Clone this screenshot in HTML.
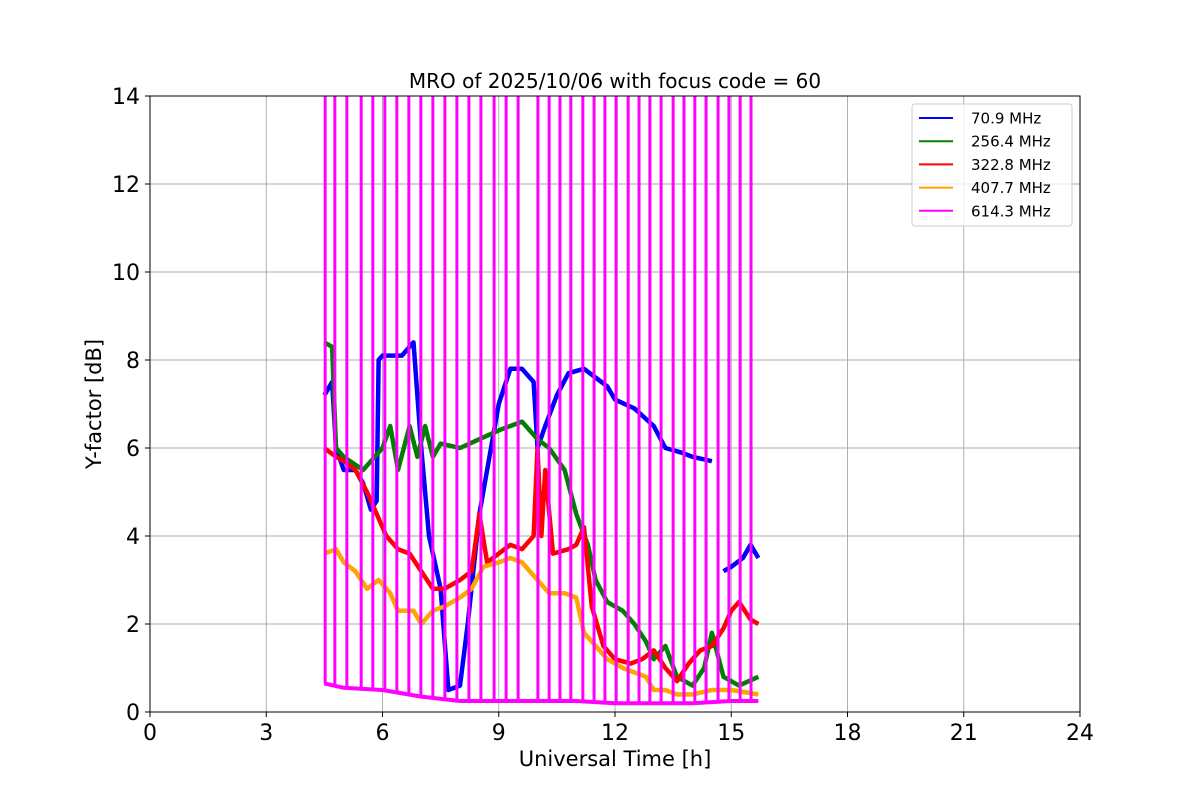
<!DOCTYPE html>
<html><head><meta charset="utf-8">
<style>
html,body{margin:0;padding:0;background:#fff;}
svg{display:block;font-family:"DejaVu Sans","Liberation Sans",sans-serif;}
</style></head>
<body>
<svg id="chart" width="1200" height="800" xmlns="http://www.w3.org/2000/svg">
<defs><clipPath id="clip"><rect x="150" y="96" width="930" height="616"/></clipPath></defs>
<rect x="0" y="0" width="1200" height="800" fill="#fff"/>
<text x="615" y="88" font-size="20" text-anchor="middle">MRO of 2025/10/06 with focus code = 60</text>
<g id="grid"></g>
<g id="series" clip-path="url(#clip)"></g>
<rect x="150" y="96" width="930" height="616" fill="none" stroke="#000" stroke-width="1"/>
<g id="axes"></g>
<text x="615" y="766" font-size="21" text-anchor="middle">Universal Time [h]</text>
<text transform="translate(101,404) rotate(-90)" font-size="21" text-anchor="middle">Y-factor [dB]</text>
<g id="legend"></g>
</svg>
<script>
const xTicks=[0,3,6,9,12,15,18,21,24];
const yTicks=[0,2,4,6,8,10,12,14];
const seriesNames=[" 70.9 MHz","256.4 MHz","322.8 MHz","407.7 MHz","614.3 MHz"];
const seriesColors=["#0000ff","#008000","#ff0000","#ffa500","#ff00ff"];
const blueT=[4.5,4.7,4.8,5.0,5.3,5.5,5.7,5.85,5.9,6.0,6.5,6.8,7.0,7.2,7.5,7.7,8.0,8.2,8.5,8.8,9.0,9.3,9.6,9.9,10.0,10.2,10.5,10.8,11.2,11.5,11.8,12.0,12.5,13.0,13.3,13.7,14.0,14.5];
const blueV=[7.2,7.5,6.0,5.5,5.5,5.2,4.6,4.8,8.0,8.1,8.1,8.4,6.0,4.0,2.8,0.5,0.6,2.0,4.5,6.0,7.0,7.8,7.8,7.5,6.0,6.5,7.2,7.7,7.8,7.6,7.4,7.1,6.9,6.5,6.0,5.9,5.8,5.7];
const blue2T=[14.8,15.0,15.3,15.5,15.7];
const blue2V=[3.2,3.3,3.5,3.8,3.5];
const greenT=[4.5,4.7,4.8,5.0,5.5,5.8,6.0,6.2,6.4,6.7,6.9,7.1,7.3,7.5,8.0,8.5,9.0,9.3,9.6,10.0,10.3,10.7,11.0,11.3,11.5,11.8,12.2,12.5,12.8,13.0,13.3,13.6,14.0,14.3,14.5,14.8,15.2,15.7];
const greenV=[8.4,8.3,6.0,5.8,5.5,5.8,6.0,6.5,5.5,6.5,5.8,6.5,5.8,6.1,6.0,6.2,6.4,6.5,6.6,6.2,6.0,5.5,4.5,3.8,3.0,2.5,2.3,2.0,1.6,1.2,1.5,0.8,0.6,1.0,1.8,0.8,0.6,0.8];
const redT=[4.5,4.8,5.0,5.3,5.6,5.9,6.1,6.4,6.7,7.0,7.3,7.6,8.0,8.3,8.5,8.7,9.0,9.3,9.6,9.9,10.0,10.1,10.2,10.4,10.8,11.0,11.2,11.4,11.7,12.0,12.4,12.7,13.0,13.3,13.6,13.9,14.2,14.5,14.8,15.0,15.2,15.5,15.7];
const redV=[6.0,5.8,5.7,5.5,5.0,4.4,4.0,3.7,3.6,3.2,2.8,2.8,3.0,3.2,4.5,3.4,3.6,3.8,3.7,4.0,6.0,4.0,5.5,3.6,3.7,3.8,4.2,2.4,1.5,1.2,1.1,1.2,1.4,1.0,0.7,1.1,1.4,1.5,1.9,2.3,2.5,2.1,2.0];
const orangeT=[4.5,4.8,5.0,5.3,5.6,5.9,6.2,6.4,6.8,7.0,7.3,7.6,8.0,8.3,8.6,9.0,9.3,9.6,10.0,10.3,10.7,11.0,11.2,11.5,11.8,12.2,12.5,12.8,13.0,13.3,13.6,14.0,14.5,15.0,15.7];
const orangeV=[3.6,3.7,3.4,3.2,2.8,3.0,2.7,2.3,2.3,2.0,2.3,2.4,2.6,2.8,3.3,3.4,3.5,3.4,3.0,2.7,2.7,2.6,1.8,1.5,1.2,1.0,0.9,0.8,0.5,0.5,0.4,0.4,0.5,0.5,0.4];
const magentaT=[4.5,5.0,6.0,7.0,8.0,9.0,10.0,11.0,12.0,13.0,14.0,15.0,15.7];
const magentaV=[0.65,0.55,0.5,0.35,0.25,0.25,0.25,0.25,0.2,0.2,0.2,0.25,0.25];
const spikeT=[4.52,4.77,5.08,5.45,5.75,6.06,6.37,6.68,6.99,7.30,7.61,7.92,8.23,8.54,8.88,9.19,9.50,10.01,10.30,10.58,10.86,11.17,11.46,11.74,12.03,12.34,12.62,12.90,13.19,13.50,13.78,14.06,14.35,14.66,14.94,15.23,15.51];

const NS="http://www.w3.org/2000/svg";
const X=h=>150+h*930/24;
const Y=v=>712-v*616/14;
function mk(tag,attrs,parent){const e=document.createElementNS(NS,tag);for(const k in attrs)e.setAttribute(k,attrs[k]);parent.appendChild(e);return e;}
const grid=document.getElementById('grid'),axes=document.getElementById('axes'),ser=document.getElementById('series'),leg=document.getElementById('legend');
xTicks.forEach(t=>{
 const g=mk('line',{x1:X(t),x2:X(t),y1:96,y2:712,stroke:'#a8a8a8','stroke-width':0.9},grid);
 
 
 mk('line',{x1:X(t),x2:X(t),y1:712,y2:717,stroke:'#000'},axes);
 const l=mk('text',{x:X(t),y:740,'font-size':22,'text-anchor':'middle'},axes);l.textContent=t;
 
 
});
yTicks.forEach(t=>{
 const g=mk('line',{x1:150,x2:1080,y1:Y(t),y2:Y(t),stroke:'#a8a8a8','stroke-width':0.9},grid);
 
 
 mk('line',{x1:145,x2:150,y1:Y(t),y2:Y(t),stroke:'#000'},axes);
 const l=mk('text',{x:140,y:Y(t)+8,'font-size':22,'text-anchor':'end'},axes);l.textContent=t;
 
 
});
function line(T,V,color,w,name){
 const p=mk('polyline',{points:T.map((t,i)=>X(t)+','+Y(V[i])).join(' '),fill:'none',stroke:color,'stroke-width':w,'stroke-linejoin':'round'},ser);
 
 
}
line(blueT,blueV,seriesColors[0],4.5,'series-70-9-mhz');
line(blue2T,blue2V,seriesColors[0],4.5,'series-70-9-mhz-late');
line(greenT,greenV,seriesColors[1],4.5,'series-256-4-mhz');
line(redT,redV,seriesColors[2],4.5,'series-322-8-mhz');
line(orangeT,orangeV,seriesColors[3],4.5,'series-407-7-mhz');
line(magentaT,magentaV,seriesColors[4],4,'series-614-3-mhz');
function interp(t){for(let i=1;i<magentaT.length;i++){if(t<=magentaT[i]){const f=(t-magentaT[i-1])/(magentaT[i]-magentaT[i-1]);return magentaV[i-1]+f*(magentaV[i]-magentaV[i-1]);}}return magentaV[magentaV.length-1];}
spikeT.forEach(t=>{
 const s=mk('line',{x1:X(t),x2:X(t),y1:Y(interp(t)),y2:90,stroke:seriesColors[4],'stroke-width':3},ser);
 
 
});
const box=mk('rect',{x:912,y:104,width:160,height:122,rx:3,fill:'#fff','fill-opacity':0.8,stroke:'#ccc'},leg);


seriesNames.forEach((n,i)=>{
 const y=118+i*23.2;
 mk('line',{x1:919,x2:953,y1:y,y2:y,stroke:seriesColors[i],'stroke-width':2},leg);
 const tx=mk('text',{x:971,y:y+5.5,'font-size':15,'xml:space':'preserve'},leg);tx.textContent=n;
 
 
});
</script>
</body></html>
